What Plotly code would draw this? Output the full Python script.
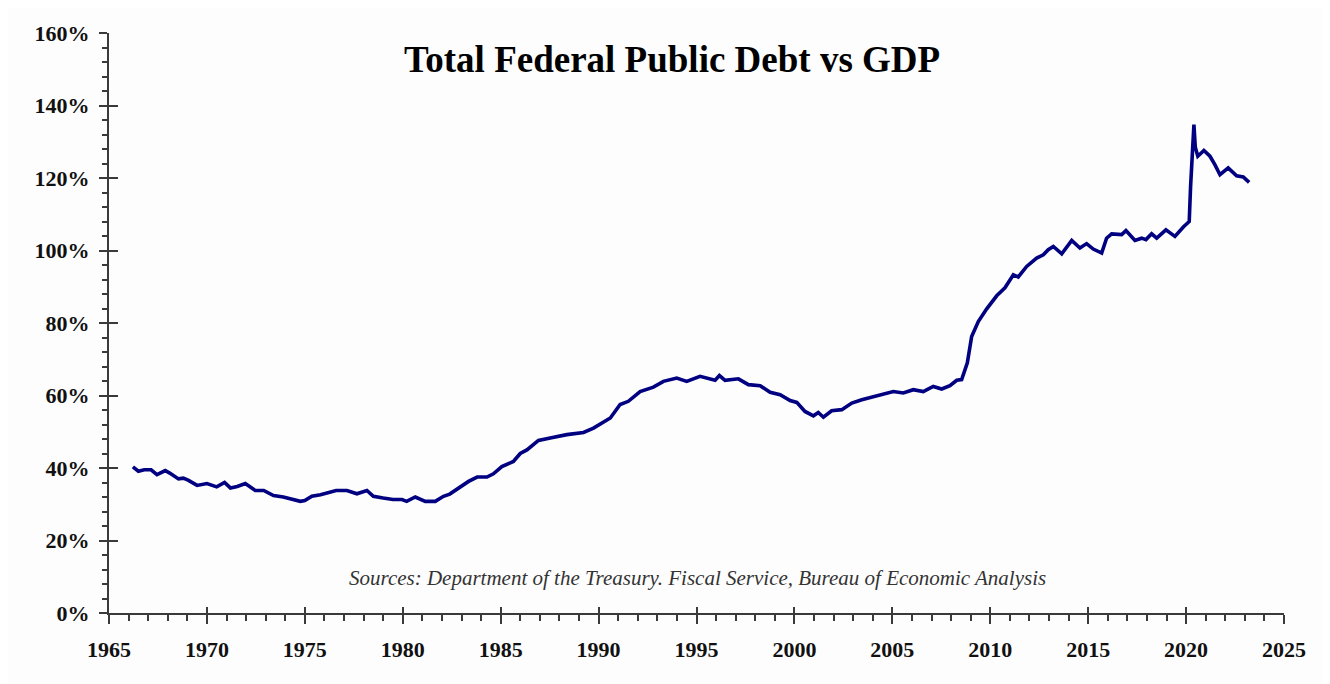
import plotly.graph_objects as go

# Values (decimal year, debt as % of GDP)
years = [1966.22, 1966.5, 1966.8, 1967.15, 1967.45, 1967.87, 1968.1, 1968.55, 1968.8, 1969.06,
         1969.5, 1970.0, 1970.5, 1970.9, 1971.2, 1971.55, 1971.96, 1972.47, 1972.9, 1973.4,
         1973.9, 1974.34, 1974.77, 1975.0, 1975.36, 1975.8, 1976.3, 1976.6, 1977.15, 1977.66,
         1978.17, 1978.5, 1979.0, 1979.5, 1979.96, 1980.2, 1980.64, 1981.15, 1981.66, 1982.08,
         1982.4, 1982.85, 1983.36, 1983.8, 1984.3, 1984.63, 1985.06, 1985.65, 1986.0, 1986.34,
         1986.93, 1987.53, 1988.38, 1989.23, 1989.74, 1990.6, 1991.1, 1991.52, 1992.12, 1992.8,
         1993.31, 1993.99, 1994.5, 1995.18, 1995.6, 1995.95, 1996.17, 1996.46, 1997.14, 1997.65,
         1998.25, 1998.76, 1999.27, 1999.78, 2000.12, 2000.54, 2000.97, 2001.22, 2001.48, 2001.9,
         2002.42, 2002.93, 2003.44, 2003.78, 2004.28, 2004.88, 2005.05, 2005.56, 2006.07, 2006.58,
         2007.09, 2007.52, 2007.94, 2008.29, 2008.54, 2008.83, 2009.05, 2009.39, 2009.82, 2010.33,
         2010.75, 2011.18, 2011.43, 2011.86, 2012.37, 2012.71, 2012.96, 2013.22, 2013.65, 2014.16,
         2014.58, 2014.92, 2015.26, 2015.69, 2015.94, 2016.2, 2016.71, 2016.93, 2017.39, 2017.73,
         2017.95, 2018.24, 2018.5, 2018.97, 2019.43, 2019.86, 2020.16, 2020.23, 2020.33, 2020.4,
         2020.47, 2020.6, 2020.91, 2021.22, 2021.47, 2021.73, 2022.15, 2022.58, 2022.92, 2023.22]
debt_pct = [40.3, 39.1, 39.5, 39.5, 38.2, 39.3, 38.6, 37.0, 37.2, 36.6,
            35.2, 35.7, 34.8, 36.0, 34.5, 34.9, 35.7, 33.8, 33.8, 32.4,
            32.0, 31.3, 30.8, 31.0, 32.2, 32.6, 33.5, 33.8, 33.8, 32.9,
            33.8, 32.2, 31.7, 31.3, 31.3, 30.8, 32.0, 30.8, 30.8, 32.2,
            32.8, 34.5, 36.3, 37.5, 37.5, 38.4, 40.4, 41.8, 44.0, 45.0,
            47.6, 48.3, 49.2, 49.8, 51.0, 53.8, 57.5, 58.4, 61.1, 62.3,
            63.9, 64.8, 63.9, 65.3, 64.8, 64.2, 65.5, 64.2, 64.6, 63.0,
            62.7, 60.9, 60.2, 58.6, 58.1, 55.6, 54.4, 55.3, 54.0, 55.8,
            56.1, 57.9, 58.8, 59.3, 60.2, 60.9, 61.1, 60.7, 61.6, 61.1,
            62.5, 61.8, 62.7, 64.2, 64.4, 69.0, 76.3, 80.4, 83.9, 87.5,
            89.7, 93.3, 92.7, 95.6, 97.9, 98.8, 100.2, 101.1, 99.1, 102.8,
            100.7, 101.9, 100.4, 99.3, 103.4, 104.6, 104.4, 105.5, 102.8, 103.4,
            103.0, 104.6, 103.4, 105.7, 103.9, 106.5, 108.0, 117.7, 129.7, 134.7,
            128.5, 126.0, 127.6, 126.0, 123.7, 120.9, 122.8, 120.6, 120.3, 118.8]

title_text = "Total Federal Public Debt vs GDP"
source_text = "Sources: Department of the Treasury. Fiscal Service, Bureau of Economic Analysis"

x_range = [1965, 2025]
y_range = [0, 160]

SERIF = "Liberation Serif, Times New Roman, serif"
AXIS_COLOR = "#3a3a3a"
BG = "#fdfdfd"

fig = go.Figure()
fig.add_trace(go.Scatter(
    x=years, y=debt_pct, mode="lines",
    line=dict(color="#000080", width=3.6),
    hoverinfo="x+y", showlegend=False,
))
# empty trace so the overlay axes (inner half of the crossing ticks) are drawn
fig.add_trace(go.Scatter(x=[], y=[], xaxis="x2", yaxis="y2", showlegend=False, hoverinfo="skip"))

tickfont = dict(family=SERIF, size=22, color="#111111", weight="bold")

fig.update_layout(
    width=1322, height=676,
    paper_bgcolor=BG, plot_bgcolor=BG,
    margin=dict(l=101, r=46, t=25, b=71),
    xaxis=dict(
        range=x_range, dtick=5, tick0=1965,
        showgrid=False, zeroline=False,
        showline=True, linecolor=AXIS_COLOR, linewidth=2,
        ticks="outside", ticklen=9, tickwidth=2, tickcolor=AXIS_COLOR,
        minor=dict(dtick=1, ticks="outside", ticklen=6, tickwidth=1.5, tickcolor=AXIS_COLOR),
        tickfont=tickfont, ticklabelstandoff=7,
    ),
    yaxis=dict(
        range=y_range, dtick=20, tick0=0, ticksuffix="%",
        showgrid=False, zeroline=False,
        showline=True, linecolor=AXIS_COLOR, linewidth=2,
        ticks="outside", ticklen=8, tickwidth=2, tickcolor=AXIS_COLOR,
        minor=dict(dtick=4, ticks="outside", ticklen=5, tickwidth=1.5, tickcolor=AXIS_COLOR),
        tickfont=tickfont, ticklabelstandoff=5,
    ),
    xaxis2=dict(
        range=x_range, dtick=5, tick0=1965, overlaying="x", anchor="y", side="bottom",
        showgrid=False, zeroline=False, showline=False, showticklabels=False,
        ticks="inside", ticklen=6, tickwidth=2, tickcolor=AXIS_COLOR,
    ),
    yaxis2=dict(
        range=y_range, dtick=20, tick0=0, overlaying="y", anchor="x", side="left",
        showgrid=False, zeroline=False, showline=False, showticklabels=False,
        ticks="inside", ticklen=9, tickwidth=2, tickcolor=AXIS_COLOR,
    ),
    annotations=[
        dict(text="<b>" + title_text + "</b>", xref="paper", yref="paper",
             x=0.479, y=0.954, xanchor="center", yanchor="middle", showarrow=False,
             font=dict(family=SERIF, size=37, color="#000000")),
        dict(text="<i>" + source_text + "</i>", xref="paper", yref="paper",
             x=0.501, y=0.061, xanchor="center", yanchor="middle", showarrow=False,
             font=dict(family=SERIF, size=21, color="#333333")),
    ],
)

fig.write_html("out.html")
